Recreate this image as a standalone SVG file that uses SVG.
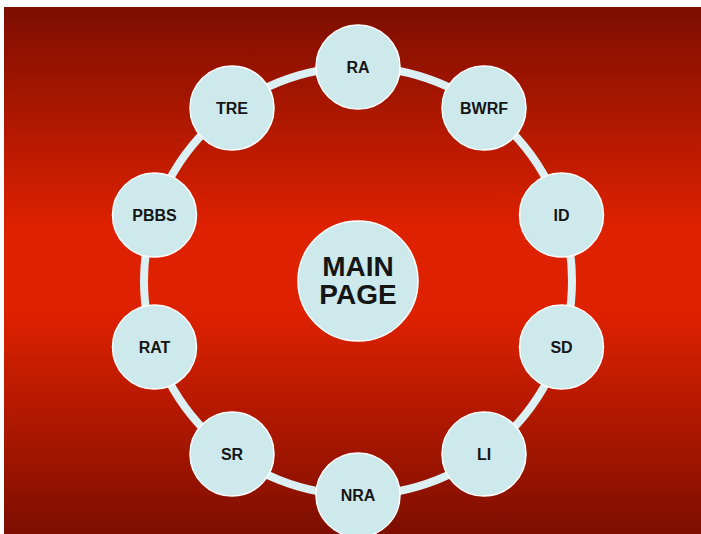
<svg xmlns="http://www.w3.org/2000/svg" width="701" height="534" viewBox="0 0 701 534">
<defs>
<linearGradient id="bg" x1="0" y1="0" x2="0" y2="1">
<stop offset="0" stop-color="#7d0e00"/>
<stop offset="0.42" stop-color="#de2100"/>
<stop offset="0.58" stop-color="#de2100"/>
<stop offset="1" stop-color="#7d0e00"/>
</linearGradient>
</defs>
<style>
.node circle{fill:#cde9ec;stroke:#ffffff;stroke-width:1.5}
.node text{font-family:"Liberation Sans",Arial,sans-serif;font-weight:bold;font-size:16px;fill:#151515;text-anchor:middle}
.main text{font-size:28px}
.ring{fill:none;stroke:#dcf0f3;stroke-width:8}
</style>
<rect x="0" y="0" width="701" height="534" fill="#ffffff"/>
<rect x="4" y="7" width="697" height="527" fill="url(#bg)"/>
<g id="connectors">
<circle class="ring" cx="358" cy="281" r="214"/>
</g>
<g id="main" class="node main">
<circle cx="358" cy="281" r="60"/>
<text x="358" y="276">MAIN</text>
<text x="358" y="304">PAGE</text>
</g>
<g id="ra" class="node"><circle cx="358" cy="67" r="42"/><text x="358" y="72.5">RA</text></g>
<g id="bwrf" class="node"><circle cx="484" cy="108" r="42"/><text x="484" y="113.5">BWRF</text></g>
<g id="id" class="node"><circle cx="561.5" cy="215" r="42"/><text x="561.5" y="220.5">ID</text></g>
<g id="sd" class="node"><circle cx="561.5" cy="347" r="42"/><text x="561.5" y="352.5">SD</text></g>
<g id="li" class="node"><circle cx="484" cy="454" r="42"/><text x="484" y="459.5">LI</text></g>
<g id="nra" class="node"><circle cx="358" cy="495" r="42"/><text x="358" y="500.5">NRA</text></g>
<g id="sr" class="node"><circle cx="232" cy="454" r="42"/><text x="232" y="459.5">SR</text></g>
<g id="rat" class="node"><circle cx="154.5" cy="347" r="42"/><text x="154.5" y="352.5">RAT</text></g>
<g id="pbbs" class="node"><circle cx="154.5" cy="215" r="42"/><text x="154.5" y="220.5">PBBS</text></g>
<g id="tre" class="node"><circle cx="232" cy="108" r="42"/><text x="232" y="113.5">TRE</text></g>
</svg>
